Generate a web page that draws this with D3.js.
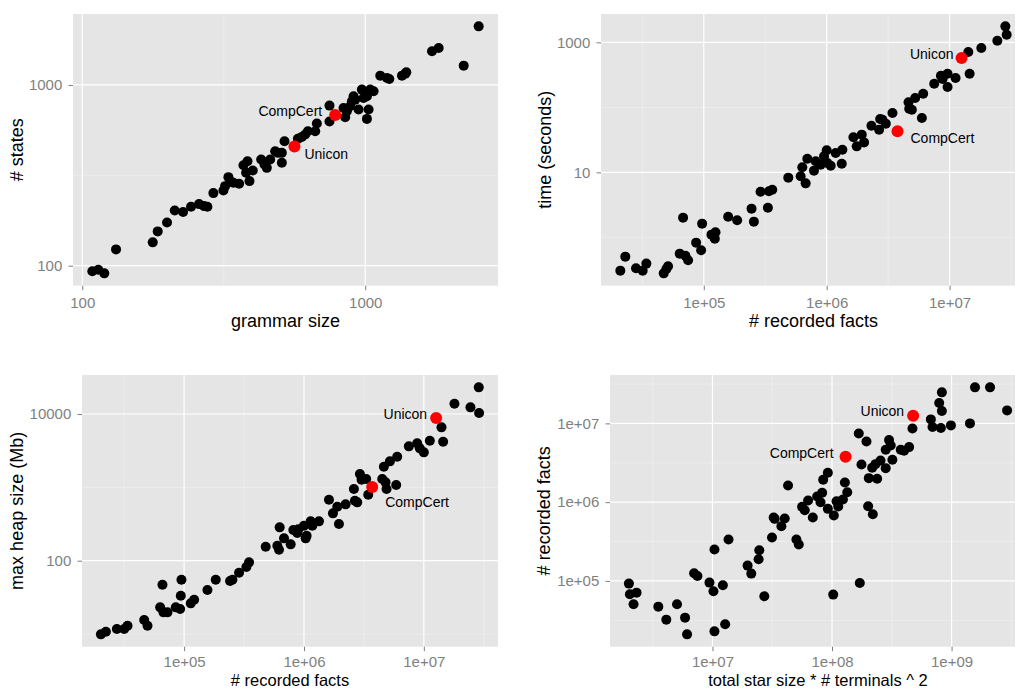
<!DOCTYPE html>
<html><head><meta charset="utf-8">
<script src="https://cdn.jsdelivr.net/npm/d3@7/dist/d3.min.js"></script>
<style>
body{margin:0;background:#fff}
svg{display:block}
text{font-family:"Liberation Sans",Arial,Helvetica,sans-serif}
</style>
</head><body>
<svg id="chart" width="1015" height="689"></svg>
<script>
// ---------- Panel 1: grammar size vs # states ----------
const grammarSize = [108.5,113.9,119.6,131.6,177.4,184.7,199.3,212.2,227.1,242.3,258.6,269.4,276.8,290.6,315.3,319.6,328.4,333.0,342.1,358.3,371.2,383.5,379.3,389.8,400.5,428.7,440.5,448.9,461.3,480.5,491.0,507.3,507.3,518.4,578.0,597.0,613.4,627.0,665.6,674.5,747.6,747.6,838.0,849.4,861.0,885.0,897.0,909.3,921.7,947.1,972.9,986.5,1013.7,1027.5,1013.7,1041.6,1070.3,1130.0,1193.3,1216.1,1348.5,1385.6,1396.8,1721.6,1817.4,2228,2517];
const numStates = [93.1,95.0,90.7,123.1,134.6,154.8,173.5,202.2,198.0,211.8,219.1,213.6,212.0,252.1,260.8,275.5,309.0,293.7,287.5,283.8,359.8,378.6,326.4,293.7,336.3,386.7,363.0,347.8,386.7,430.1,421.1,421.1,370.8,488.5,503.2,516.1,531.7,554.6,554.6,611.5,768.8,627.2,746.3,662.9,715.2,762.3,812.6,865.6,829.8,730.7,942.4,847.8,865.6,730.7,649.0,942.4,922.6,1126,1093,1079,1126,1155,1175,1535,1601,1279,2110];

// ---------- Panel 2: # recorded facts vs time (seconds) ----------
const factsT = [20930,22980,28080,31820,34090,47200,49630,51200,63720,67840,70870,74540,86600,95120,96920,115500,122900,124500,157900,186900,244700,255600,289700,332400,338800,360600,487000,613800,633300,674300,695700,788400,813500,893400,951300,1000000,1012000,1078000,1184000,1326000,1342000,1650000,1756000,1929000,2015000,2313000,2671000,2722000,2843000,3027000,3430000,4634000,4692000,4932000,5250000,5950000,6100000,7499000,8500000,8770000,9630000,9630000,11190000,14200000,14560000,18120000,24470000,28430000,29150000];
const timeSec = [0.307,0.504,0.334,0.307,0.394,0.279,0.326,0.358,0.561,2.007,0.522,0.443,0.828,0.631,1.623,1.099,0.954,1.194,2.079,1.826,2.761,1.742,5.04,2.86,5.10,5.41,8.28,8.68,11.94,6.77,16.23,10.61,14.77,13.12,17.63,21.8,13.92,12.66,19.83,13.59,22.3,34.6,25.1,38.0,28.9,52.2,45.3,66.2,64.6,56.1,81.8,119.4,95.4,92.1,139.2,68.5,162.3,231.3,307,272.9,329.6,205.5,282.7,710,329.6,818,1061,1763,1312];

// ---------- Panel 3: # recorded facts vs max heap size (Mb) ----------
const factsH = [20220,22250,27470,31620,33720,46420,49500,63100,65970,67250,72620,85220,92620,93800,95000,113600,121200,156500,183600,241700,252800,287300,330700,348000,479300,599500,619000,627000,681300,774300,815000,879900,897000,1000000,1033000,1052000,1137000,1173000,1334000,1616000,1745000,1896000,1957000,2225000,2610000,2661000,2783000,2929000,3024000,3306000,3436000,4497000,4642000,4792000,4885000,5210000,5881000,5995000,7499000,8799000,9261000,10000000,11220000,14040000,14490000,18010000,24490000,28730000,28910000];
const heapMb = [9.9,10.76,11.70,11.70,12.99,15.52,12.99,23.1,47.1,19.75,19.75,23.1,21.9,33.3,55.1,26.2,29.4,39.8,55.1,52.8,55.1,68.6,82.0,94.9,155.2,160.2,141.3,284.8,201.6,167.0,261.9,238.4,267.5,300.1,201.6,219.2,343.9,300.1,343.9,678.9,442.2,545.1,316.2,586.5,949,658,624.6,1520,1272,1299,794,1299,1913,1170,949,2262,1076,2620,3623,3981,3402,3001,4329,6579,4195,13830,12330,23100,10320];

// ---------- Panel 4: total star size * # terminals^2 vs # recorded facts ----------
const starTerm = [2000000,2038000,2187000,2317000,3524000,4111000,5052000,5898000,6131000,7019000,7484000,9436000,10190000,10390000,10390000,12210000,12770000,13620000,19670000,21110000,24320000,24640000,27140000,31470000,32500000,33130000,37700000,40200000,42880000,50370000,52700000,56200000,59160000,63100000,69060000,75090000,80090000,82700000,84330000,92260000,92260000,102300000,103600000,109100000,112700000,123300000,128100000,134100000,167400000,170700000,176300000,194200000,200500000,203100000,216600000,219400000,231000000,238500000,254400000,281200000,281200000,299900000,309700000,319800000,375600000,400600000,441400000,470700000,670800000,692700000,788000000,813700000,829600000,829600000,987200000,1425000000,1570000000,2098000000,2913000000];
const factsS = [92500,67680,50510,71060,47180,32250,50510,34200,20990,125200,115800,95240,73890,250200,22920,88070,28130,335300,156600,123960,188600,245400,63860,355500,638600,614000,495300,620000,1629000,335300,289700,872300,791200,1050000,638600,1180000,1000000,1314000,1922000,2360000,822800,67050,676900,1030000,880700,1081000,1778000,1340000,7464000,94300,3011000,5904000,889400,2019000,2732000,704000,3041000,1980000,3386000,2705000,4627000,6140000,5252000,3452000,4627000,4493000,5004000,8638000,11240000,8982000,18130000,8725000,24790000,14350000,9432000,10000000,28690000,28690000,14630000];

// ---------- Highlighted benchmarks ----------
const hlNames = ["CompCert","Unicon"];
const hlGrammar = [783, 562],        hlStates = [683, 456];
const hlFactsT = [3769000, 12520000], hlTime = [42.7, 574];
const hlFactsH = [3710000, 12670000], hlHeap = [1010, 8820];
const hlStar = [129800000, 476800000], hlFactsS = [3769000, 12520000];

// ---------- Tick values and labels ----------
const p1XTicks = [100, 1000],            p1XLabels = ["100", "1000"];
const p1YTicks = [100, 1000],            p1YLabels = ["100", "1000"];
const p2XTicks = [1e5, 1e6, 1e7],        p2XLabels = ["1e+05", "1e+06", "1e+07"];
const p2YTicks = [10, 1000],             p2YLabels = ["10", "1000"];
const p3XTicks = [1e5, 1e6, 1e7],        p3XLabels = ["1e+05", "1e+06", "1e+07"];
const p3YTicks = [100, 10000],           p3YLabels = ["100", "10000"];
const p4XTicks = [1e7, 1e8, 1e9],        p4XLabels = ["1e+07", "1e+08", "1e+09"];
const p4YTicks = [1e5, 1e6, 1e7],        p4YLabels = ["1e+05", "1e+06", "1e+07"];

// ---------- Layout ----------
const svg = d3.select("#chart");
const PH = 271.7;
const panels = [
  {left:73, top:14, w:425, xs:grammarSize, ys:numStates, hx:hlGrammar, hy:hlStates,
   xt:p1XTicks, xl:p1XLabels, yt:p1YTicks, yl:p1YLabels, xTitleOff:35, xTitleSize:18, xPad:7.4,
   xTitle:"grammar size", yTitle:"# states", yTitleX:17,
   lab:{CompCert:{anchor:"end",dx:-13,dy:-4}, Unicon:{anchor:"start",dx:10,dy:7}}},
  {left:601, top:14, w:425, xs:factsT, ys:timeSec, hx:hlFactsT, hy:hlTime,
   xt:p2XTicks, xl:p2XLabels, yt:p2YTicks, yl:p2YLabels, xTitleOff:35, xTitleSize:18, xPad:7.4,
   xTitle:"# recorded facts", yTitle:"time (seconds)", yTitleX:545,
   lab:{CompCert:{anchor:"start",dx:13,dy:7}, Unicon:{anchor:"end",dx:-8,dy:-4}}},
  {left:82, top:375, w:416, xs:factsH, ys:heapMb, hx:hlFactsH, hy:hlHeap,
   xt:p3XTicks, xl:p3XLabels, yt:p3YTicks, yl:p3YLabels, xTitleOff:33.1, xTitleSize:16.5, xPad:5.5,
   xTitle:"# recorded facts", yTitle:"max heap size (Mb)", yTitleX:17,
   lab:{CompCert:{anchor:"start",dx:13,dy:15}, Unicon:{anchor:"end",dx:-9,dy:-4}}},
  {left:610, top:375, w:416, xs:starTerm, ys:factsS, hx:hlStar, hy:hlFactsS,
   xt:p4XTicks, xl:p4XLabels, yt:p4YTicks, yl:p4YLabels, xTitleOff:33.1, xTitleSize:16.5, xPad:5.5,
   xTitle:"total star size * # terminals ^ 2", yTitle:"# recorded facts", yTitleX:544,
   lab:{CompCert:{anchor:"end",dx:-12,dy:-4}, Unicon:{anchor:"end",dx:-9,dy:-5}}}
];

function expandedLogDomain(vals){
  const [a,b] = d3.extent(vals).map(Math.log10);
  const e = (b-a)*0.05;
  return [Math.pow(10,a-e), Math.pow(10,b+e)];
}
function minorVals(ticks, domain){
  const r = ticks[1]/ticks[0];
  const out = [];
  for(let k=-2;k<ticks.length+1;k++){
    const v = ticks[0]*Math.pow(r,k+0.5);
    if(v>domain[0] && v<domain[1]) out.push(v);
  }
  return out;
}

panels.forEach(p=>{
  const x = d3.scaleLog().domain(expandedLogDomain(p.xs)).range([p.left, p.left+p.w]);
  const y = d3.scaleLog().domain(expandedLogDomain(p.ys)).range([p.top+PH, p.top]);
  const g = svg.append("g");
  g.append("rect").attr("x",p.left).attr("y",p.top).attr("width",p.w).attr("height",PH).attr("fill","#E5E5E5");
  // minor grid
  minorVals(p.xt, x.domain()).forEach(v=>{
    g.append("line").attr("x1",x(v)).attr("x2",x(v)).attr("y1",p.top).attr("y2",p.top+PH)
      .attr("stroke","#F2F2F2").attr("stroke-width",0.6);
  });
  minorVals(p.yt, y.domain()).forEach(v=>{
    g.append("line").attr("y1",y(v)).attr("y2",y(v)).attr("x1",p.left).attr("x2",p.left+p.w)
      .attr("stroke","#F2F2F2").attr("stroke-width",0.6);
  });
  // major grid
  p.xt.forEach(v=>{
    g.append("line").attr("x1",x(v)).attr("x2",x(v)).attr("y1",p.top).attr("y2",p.top+PH)
      .attr("stroke","#fff").attr("stroke-width",1.2);
  });
  p.yt.forEach(v=>{
    g.append("line").attr("y1",y(v)).attr("y2",y(v)).attr("x1",p.left).attr("x2",p.left+p.w)
      .attr("stroke","#fff").attr("stroke-width",1.2);
  });
  // axes
  const ax = g.append("g").attr("transform",`translate(0,${p.top+PH})`)
    .call(d3.axisBottom(x).tickValues(p.xt).tickFormat((d,i)=>p.xl[i]).tickSize(4.5).tickPadding(p.xPad));
  const ay = g.append("g").attr("transform",`translate(${p.left},0)`)
    .call(d3.axisLeft(y).tickValues(p.yt).tickFormat((d,i)=>p.yl[i]).tickSize(4.5).tickPadding(6.2));
  [ax,ay].forEach(a=>{
    a.select(".domain").remove();
    a.selectAll(".tick line").attr("stroke","#7F7F7F").attr("stroke-width",1);
    a.selectAll(".tick text").attr("fill","#7F7F7F").style("font-size","15px")
      .style("font-family",'"Liberation Sans",Arial,sans-serif');
  });
  // points
  const clipId = "clip"+p.left+"_"+p.top;
  g.append("clipPath").attr("id",clipId).append("rect")
    .attr("x",p.left).attr("y",p.top).attr("width",p.w).attr("height",PH);
  const pts = g.append("g").attr("clip-path",`url(#${clipId})`);
  pts.selectAll("circle.b").data(d3.range(p.xs.length)).join("circle").attr("class","b")
    .attr("cx",i=>x(p.xs[i])).attr("cy",i=>y(p.ys[i])).attr("r",5).attr("fill","#000");
  pts.selectAll("circle.h").data(d3.range(p.hx.length)).join("circle").attr("class","h")
    .attr("cx",i=>x(p.hx[i])).attr("cy",i=>y(p.hy[i])).attr("r",6).attr("fill","#FF0000");
  // labels
  hlNames.forEach((n,i)=>{
    const s = p.lab[n];
    g.append("text").attr("x",x(p.hx[i])+s.dx).attr("y",y(p.hy[i])+s.dy)
      .attr("text-anchor",s.anchor).attr("dominant-baseline","central")
      .style("font-size","14px").attr("fill","#000").text(n);
  });
  // titles
  g.append("text").attr("x",p.left+p.w/2).attr("y",p.top+PH+p.xTitleOff).attr("text-anchor","middle")
    .attr("dominant-baseline","central").style("font-size",p.xTitleSize+"px").attr("fill","#000").text(p.xTitle);
  g.append("text").attr("transform",`translate(${p.yTitleX},${p.top+PH/2}) rotate(-90)`)
    .attr("text-anchor","middle").attr("dominant-baseline","central")
    .style("font-size","18px").attr("fill","#000").text(p.yTitle);
});
</script>
</body></html>
